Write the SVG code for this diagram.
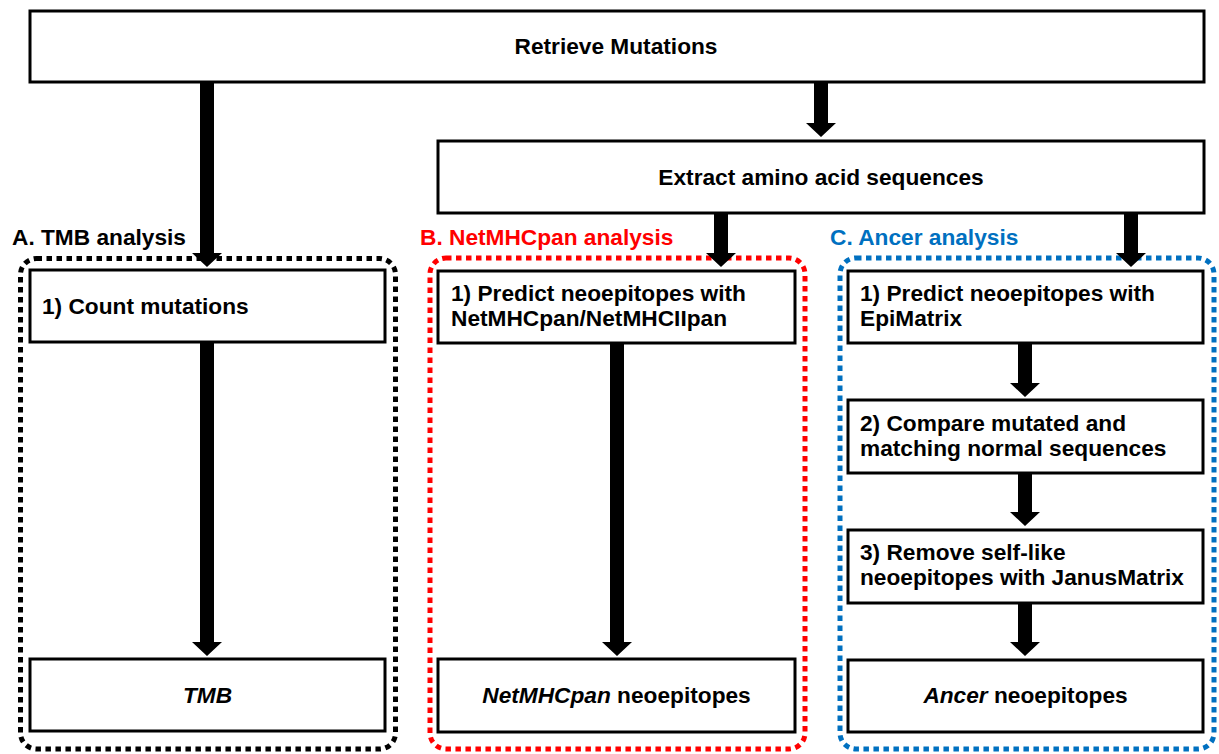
<svg xmlns="http://www.w3.org/2000/svg" width="1219" height="754" viewBox="0 0 1219 754">
<style>
.box{fill:#fff;stroke:#000;stroke-width:3}
.dot{fill:none;stroke-width:5;stroke-dasharray:5.5 4.5}
.t{font-family:"Liberation Sans",Arial,sans-serif;font-weight:bold;font-size:22.7px;fill:#000}
.c{text-anchor:middle}
.arr{fill:#000}
</style>
<rect width="1219" height="754" fill="#fff"/>
<g id="groupA">
<rect class="dot" x="20.5" y="258.5" width="375" height="490.5" rx="16" stroke="#000"/>
<text class="t" x="12" y="245">A. TMB analysis</text>
</g>
<g id="groupB">
<rect class="dot" x="430" y="258" width="375" height="491" rx="16" stroke="#FF0000"/>
<text class="t" x="420" y="245" style="fill:#FF0000">B. NetMHCpan analysis</text>
</g>
<g id="groupC">
<rect class="dot" x="840" y="258" width="374" height="491" rx="16" stroke="#0070C0"/>
<text class="t" x="830" y="245" style="fill:#0070C0">C. Ancer analysis</text>
</g>
<g id="connectors">
<path class="arr" d="M200,82H214V253H222L207,267L192,253H200Z"/>
<path class="arr" d="M814,82H828V123H836L821,137L806,123H814Z"/>
<path class="arr" d="M714,213H728V253H736L721,267L706,253H714Z"/>
<path class="arr" d="M1124,213H1138V253H1146L1131,267L1116,253H1124Z"/>
<path class="arr" d="M200,342H214V642H222L207,656L192,642H200Z"/>
<path class="arr" d="M610,343H624V642H632L617,656L602,642H610Z"/>
<path class="arr" d="M1018,343H1032V383H1040L1025,397L1010,383H1018Z"/>
<path class="arr" d="M1018,473H1032V512H1040L1025,526L1010,512H1018Z"/>
<path class="arr" d="M1018,603H1032V642H1040L1025,656L1010,642H1018Z"/>
</g>
<g id="retrieve">
<rect class="box" x="30" y="11" width="1174" height="71"/>
<text class="t c" x="616" y="54">Retrieve Mutations</text>
</g>
<g id="extract">
<rect class="box" x="438" y="141" width="766" height="72"/>
<text class="t c" x="821" y="185">Extract amino acid sequences</text>
</g>
<g id="a1">
<rect class="box" x="30" y="270" width="355" height="72"/>
<text class="t" x="42" y="314">1) Count mutations</text>
</g>
<g id="a2">
<rect class="box" x="30" y="659" width="355" height="72"/>
<text class="t c" x="207.5" y="703" font-style="italic">TMB</text>
</g>
<g id="b1">
<rect class="box" x="438" y="271" width="357" height="72"/>
<text class="t" x="451" y="301">1) Predict neoepitopes with</text>
<text class="t" x="451" y="326">NetMHCpan/NetMHCIIpan</text>
</g>
<g id="b2">
<rect class="box" x="438" y="659" width="357" height="73"/>
<text class="t c" x="616.5" y="703"><tspan font-style="italic">NetMHCpan</tspan> neoepitopes</text>
</g>
<g id="c1">
<rect class="box" x="848" y="271" width="355" height="72"/>
<text class="t" x="860" y="301">1) Predict neoepitopes with</text>
<text class="t" x="860" y="326">EpiMatrix</text>
</g>
<g id="c2">
<rect class="box" x="848" y="400" width="355" height="73"/>
<text class="t" x="860" y="431">2) Compare mutated and</text>
<text class="t" x="860" y="456">matching normal sequences</text>
</g>
<g id="c3">
<rect class="box" x="848" y="530" width="355" height="73"/>
<text class="t" x="860" y="560">3) Remove self-like</text>
<text class="t" x="860" y="585">neoepitopes with JanusMatrix</text>
</g>
<g id="c4">
<rect class="box" x="848" y="660" width="355" height="72"/>
<text class="t c" x="1025.5" y="703"><tspan font-style="italic">Ancer</tspan> neoepitopes</text>
</g>
</svg>
